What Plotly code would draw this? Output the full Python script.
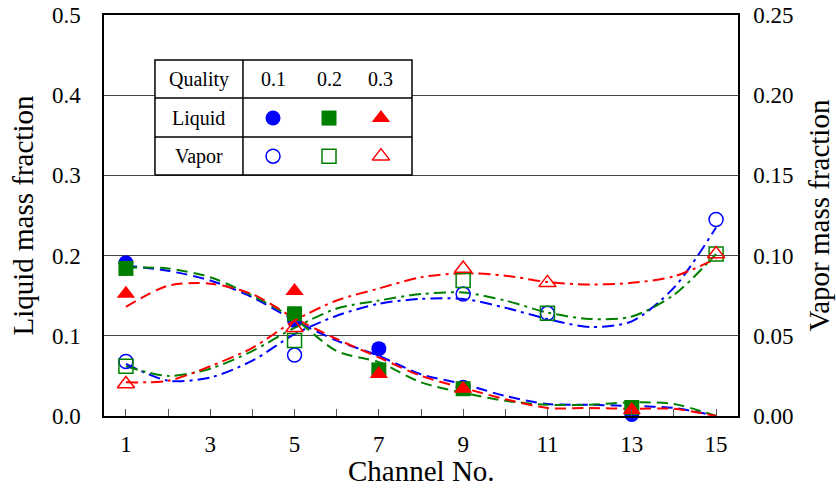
import plotly.graph_objects as go

# ---------------- data ----------------
channels = list(range(1, 16))

# measured liquid mass fraction (left axis)
liq_x = [1, 5, 7, 9, 13]
liq_q01 = [0.191, 0.119, 0.084, 0.036, 0.002]
liq_q02 = [0.184, 0.1275, 0.0575, 0.034, 0.0106]
liq_q03 = [0.1525, 0.156, 0.0525, 0.034, 0.0075]

# measured vapor mass fraction (right axis)
vap_x = [1, 5, 9, 11, 15]
vap_q01 = [0.034, 0.038, 0.076, 0.064, 0.1225]
vap_q02 = [0.031, 0.047, 0.0845, 0.064, 0.101]
vap_q03 = [0.020, 0.055, 0.092, 0.083, 0.101]

# fitted curves read at each channel
liq_fit_q01 = [0.1875, 0.181, 0.169, 0.148, 0.119, 0.094, 0.075, 0.052, 0.040, 0.025, 0.015, 0.014, 0.0125, 0.010, 0.0]
liq_fit_q02 = [0.185, 0.184, 0.173, 0.150, 0.121, 0.081, 0.067, 0.042, 0.029, 0.019, 0.014, 0.014, 0.017, 0.015, 0.0]
liq_fit_q03 = [0.136, 0.1625, 0.165, 0.152, 0.122, 0.096, 0.073, 0.050, 0.035, 0.021, 0.010, 0.010, 0.009, 0.009, 0.0]

vap_fit_q01 = [0.0325, 0.022, 0.024, 0.0345, 0.051, 0.0625, 0.070, 0.073, 0.073, 0.0675, 0.0605, 0.0555, 0.059, 0.080, 0.1175]
vap_fit_q02 = [0.031, 0.025, 0.0295, 0.0405, 0.055, 0.067, 0.072, 0.076, 0.077, 0.072, 0.0645, 0.0605, 0.062, 0.0755, 0.101]
vap_fit_q03 = [0.021, 0.022, 0.031, 0.0425, 0.0595, 0.072, 0.0795, 0.0865, 0.089, 0.0875, 0.0835, 0.082, 0.083, 0.087, 0.098]

left_ticks = [0.0, 0.1, 0.2, 0.3, 0.4, 0.5]
right_ticks = [0.0, 0.05, 0.10, 0.15, 0.20, 0.25]
x_tick_labels = ["1", "", "3", "", "5", "", "7", "", "9", "", "11", "", "13", "", "15"]

qualities = ["0.1", "0.2", "0.3"]
colors = ["#0000FF", "#008000", "#FF0000"]
filled_symbols = ["circle", "square", "triangle-up"]
open_symbols = ["circle-open", "square-open", "triangle-up-open"]

FONT = "Liberation Serif, Times New Roman, serif"

fig = go.Figure()

# fitted curves
liq_fits = [liq_fit_q01, liq_fit_q02, liq_fit_q03]
vap_fits = [vap_fit_q01, vap_fit_q02, vap_fit_q03]
for i in range(3):
    fig.add_trace(go.Scatter(
        x=channels, y=vap_fits[i], yaxis="y2", mode="lines",
        line=dict(color=colors[i], width=2, dash="12px,5px,3px,5px", shape="spline", smoothing=0.8),
        showlegend=False, hoverinfo="skip"))
for i in range(3):
    fig.add_trace(go.Scatter(
        x=channels, y=liq_fits[i], mode="lines",
        line=dict(color=colors[i], width=2, dash="11px,6px", shape="spline", smoothing=0.8),
        showlegend=False, hoverinfo="skip"))

# markers
liq_vals = [liq_q01, liq_q02, liq_q03]
vap_vals = [vap_q01, vap_q02, vap_q03]
for i in range(3):
    fig.add_trace(go.Scatter(
        x=liq_x, y=liq_vals[i], mode="markers", cliponaxis=False,
        marker=dict(symbol=filled_symbols[i], color=colors[i], size=15 if i < 2 else 16),
        showlegend=False))
for i in range(3):
    fig.add_trace(go.Scatter(
        x=vap_x, y=vap_vals[i], yaxis="y2", mode="markers", cliponaxis=False,
        marker=dict(symbol=open_symbols[i], color=colors[i], size=14 if i < 2 else 15,
                    line=dict(width=1.5, color=colors[i])),
        showlegend=False))

# ---- table-style legend (on a helper subplot spanning the plot area) ----
tx0, tx1, tcol = 0.0804, 0.4858, 0.2192
ty0, ty1, tyr1, tyr2 = 0.601, 0.8878, 0.793, 0.6958
col_x = [0.2666, 0.3549, 0.4369]
row_y = [0.840, 0.743, 0.648]

fig.add_trace(go.Scatter(
    x=[tx0, tx1, tx1, tx0, tx0], y=[ty0, ty0, ty1, ty1, ty0],
    xaxis="x3", yaxis="y3", mode="lines", fill="toself", fillcolor="white",
    line=dict(color="black", width=1.5), showlegend=False, hoverinfo="skip"))
for ly in [tyr1, tyr2]:
    fig.add_trace(go.Scatter(x=[tx0, tx1], y=[ly, ly], xaxis="x3", yaxis="y3", mode="lines",
                             line=dict(color="black", width=1.5), showlegend=False, hoverinfo="skip"))
fig.add_trace(go.Scatter(x=[tcol, tcol], y=[ty0, ty1], xaxis="x3", yaxis="y3", mode="lines",
                         line=dict(color="black", width=1.5), showlegend=False, hoverinfo="skip"))
for i in range(3):
    fig.add_trace(go.Scatter(
        x=[col_x[i]], y=[row_y[1]], xaxis="x3", yaxis="y3", mode="markers",
        marker=dict(symbol=filled_symbols[i], color=colors[i], size=15 if i < 2 else 16),
        showlegend=False, hoverinfo="skip"))
    fig.add_trace(go.Scatter(
        x=[col_x[i]], y=[row_y[2]], xaxis="x3", yaxis="y3", mode="markers",
        marker=dict(symbol=open_symbols[i], color=colors[i], size=14 if i < 2 else 15,
                    line=dict(width=1.5, color=colors[i])),
        showlegend=False, hoverinfo="skip"))

annotations = []
for txt, yy in [("Quality", row_y[0]), ("Liquid", row_y[1]), ("Vapor", row_y[2])]:
    annotations.append(dict(x=(tx0 + tcol) / 2, y=yy, xref="paper", yref="paper", text=txt,
                            xanchor="center", yanchor="middle",
                            showarrow=False, font=dict(family=FONT, size=20, color="black")))
for i, q in enumerate(qualities):
    annotations.append(dict(x=col_x[i], y=row_y[0], xref="paper", yref="paper", text=q,
                            xanchor="center", yanchor="middle",
                            showarrow=False, font=dict(family=FONT, size=20, color="black")))

# axis titles
annotations.append(dict(x=0.5, y=-0.137, xref="paper", yref="paper", text="Channel No.",
                        xanchor="center", yanchor="middle", showarrow=False,
                        font=dict(family=FONT, size=29, color="black")))
annotations.append(dict(x=-0.1293, y=0.5, xref="paper", yref="paper", text="Liquid mass fraction",
                        textangle=-90, xanchor="center", yanchor="middle", showarrow=False,
                        font=dict(family=FONT, size=29, color="black")))
annotations.append(dict(x=1.1262, y=0.5, xref="paper", yref="paper", text="Vapor mass fraction",
                        textangle=-90, xanchor="center", yanchor="middle", showarrow=False,
                        font=dict(family=FONT, size=29, color="black")))

fig.update_layout(
    width=836, height=491,
    margin=dict(l=104, r=98, t=15, b=75, autoexpand=False),
    paper_bgcolor="white", plot_bgcolor="white",
    font=dict(family=FONT, size=23, color="black"),
    showlegend=False,
    annotations=annotations,
    xaxis=dict(
        range=[0.48, 15.52], tickmode="array", tickvals=channels, ticktext=x_tick_labels,
        ticks="inside", ticklen=7, tickcolor="#555555", tickwidth=1,
        showgrid=False, zeroline=False, automargin=False,
        showline=True, linecolor="black", linewidth=2, mirror=True,
        ticklabelstandoff=6,
        tickfont=dict(family=FONT, size=23),
    ),
    yaxis=dict(
        range=[0, 0.5], tickmode="array", tickvals=left_ticks,
        ticktext=["%.1f" % v for v in left_ticks],
        ticks="", showgrid=True, gridcolor="#444444", gridwidth=1.2, zeroline=False,
        showline=True, linecolor="black", linewidth=1.5, automargin=False,
        ticklabelstandoff=17, ticklabeloverflow="allow",
        tickfont=dict(family=FONT, size=23),
    ),
    yaxis2=dict(
        range=[0, 0.25], overlaying="y", side="right", tickmode="array", tickvals=right_ticks,
        ticktext=["%.2f" % v for v in right_ticks],
        ticks="", showgrid=False, zeroline=False, automargin=False,
        showline=True, linecolor="black", linewidth=1.5,
        ticklabelstandoff=9, ticklabeloverflow="allow",
        tickfont=dict(family=FONT, size=23),
    ),
    xaxis3=dict(range=[0, 1], visible=False, anchor="y3", overlaying="x"),
    yaxis3=dict(range=[0, 1], visible=False, anchor="x3", overlaying="y"),
)

# remove the page's default body margin so the figure fills the window exactly
fig.write_html("out.html", config={"displayModeBar": False},
               post_script="document.body.style.margin='0px';document.body.style.overflow='hidden';")
